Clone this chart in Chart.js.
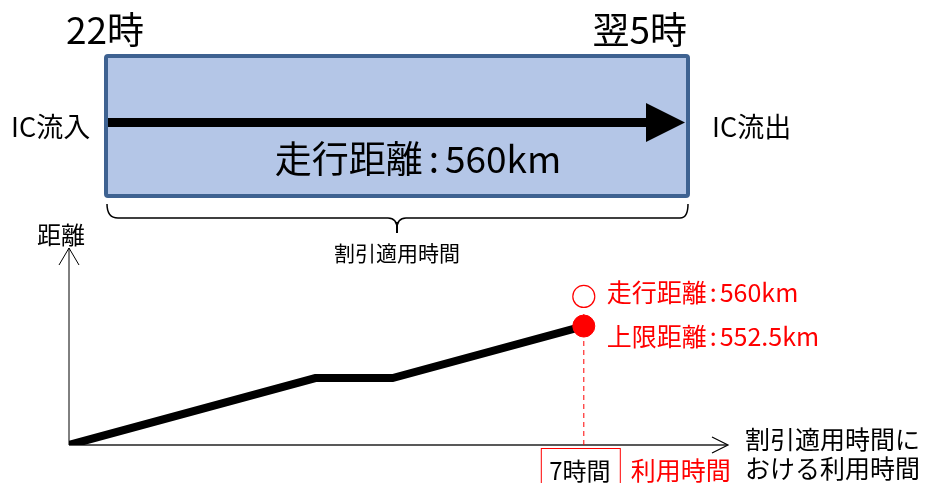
<!DOCTYPE html>
<html>
<head>
<meta charset="utf-8">
<script src="https://cdn.jsdelivr.net/npm/chart.js@4/dist/chart.umd.min.js"></script>
<style>
  html, body { margin: 0; padding: 0; background: #fff; }
  #wrap { width: 928px; height: 483px; }
</style>
</head>
<body>
<div id="wrap"><canvas id="chart" width="928" height="483"></canvas></div>
<script>
// path of the trip: usage time (h) vs distance (km), schematic
const usageHours = [0, 3.35, 4.4, 7];
const distanceKm = [0, 311, 311, 552.5];
const limitKm = 552.5;
const actualMarkKm = 690;      // open circle sits above the limit point in the sketch
const usedHours = 7;

const startLabel = '22時';
const endLabel = '翌5時';
const inLabel = 'IC流入';
const outLabel = 'IC流出';
const runLabel = '走行距離:560km';
const braceLabel = '割引適用時間';
const yLabel = '距離';
const xLabel = ['割引適用時間に', 'おける利用時間'];
const actualLabel = '走行距離:560km';
const limitLabel = '上限距離:552.5km';
const usedLabel = '7時間';
const usedTitle = '利用時間';

const JP = '"Noto Sans CJK JP", "Noto Sans", sans-serif';
const RED = '#ff0000';

// draws "xxx:yyy" with a little air round the colon, left-aligned at x
function colonText(ctx, text, x, y, gap, centered) {
  const [a, b] = text.split(':');
  const wa = ctx.measureText(a).width;
  const wc = ctx.measureText(':').width;
  const wb = ctx.measureText(b).width;
  const total = wa + gap + wc + gap + wb;
  let cx = centered ? x - total / 2 : x;
  ctx.textAlign = 'left';
  ctx.fillText(a, cx, y);
  cx += wa + gap;
  ctx.fillText(':', cx, y);
  cx += wc + gap;
  ctx.fillText(b, cx, y);
}

const diagram = {
  id: 'diagram',
  beforeDatasetsDraw(chart) {
    const { ctx, chartArea: a } = chart;
    ctx.save();
    // y axis
    ctx.strokeStyle = '#000';
    ctx.lineWidth = 1;
    ctx.beginPath();
    ctx.moveTo(a.left, a.bottom);
    ctx.lineTo(a.left, a.top);
    ctx.moveTo(a.left - 10, a.top + 17);
    ctx.lineTo(a.left, a.top);
    ctx.lineTo(a.left + 10, a.top + 17);
    ctx.stroke();
    // x axis
    ctx.strokeStyle = '#595959';
    ctx.lineWidth = 2;
    ctx.beginPath();
    ctx.moveTo(a.left, a.bottom);
    ctx.lineTo(a.right + 2, a.bottom);
    ctx.stroke();
    ctx.strokeStyle = '#000';
    ctx.lineWidth = 1.2;
    ctx.beginPath();
    ctx.moveTo(a.right - 13, a.bottom - 8);
    ctx.lineTo(a.right + 3, a.bottom);
    ctx.lineTo(a.right - 13, a.bottom + 8);
    ctx.stroke();
    ctx.restore();
  },
  afterDraw(chart) {
    const { ctx } = chart;
    const xs = chart.scales.x, ys = chart.scales.y;
    ctx.save();

    // top box
    ctx.fillStyle = '#b4c6e7';
    ctx.strokeStyle = '#3e6291';
    ctx.lineWidth = 4;
    ctx.beginPath();
    ctx.roundRect(106, 56, 582, 140, 2);
    ctx.fill();
    ctx.stroke();

    // big arrow
    ctx.fillStyle = '#000';
    ctx.fillRect(108, 118, 542, 9);
    ctx.beginPath();
    ctx.moveTo(646, 103);
    ctx.lineTo(685, 122.5);
    ctx.lineTo(646, 142);
    ctx.closePath();
    ctx.fill();

    ctx.fillStyle = '#000';
    ctx.textBaseline = 'middle';
    ctx.font = '37px ' + JP;
    ctx.textAlign = 'left';
    ctx.fillText(startLabel, 66, 30);
    ctx.textAlign = 'right';
    ctx.fillText(endLabel, 687, 30);

    ctx.font = '27px ' + JP;
    ctx.textAlign = 'left';
    ctx.fillText(inLabel, 11, 127);
    ctx.fillText(outLabel, 712, 127);

    ctx.font = '37px ' + JP;
    colonText(ctx, runLabel, 418, 159, 6, true);

    // brace under the box
    ctx.strokeStyle = '#000';
    ctx.lineWidth = 1.5;
    ctx.beginPath();
    ctx.moveTo(107, 204);
    ctx.quadraticCurveTo(107, 218, 118, 218);
    ctx.lineTo(388, 218);
    ctx.quadraticCurveTo(397, 218, 397, 229);
    ctx.quadraticCurveTo(397, 218, 406, 218);
    ctx.lineTo(680, 218);
    ctx.quadraticCurveTo(688, 218, 688, 204);
    ctx.stroke();
    ctx.lineWidth = 2;
    ctx.beginPath();
    ctx.moveTo(397, 222);
    ctx.lineTo(397, 233);
    ctx.stroke();

    ctx.font = '21px ' + JP;
    ctx.textAlign = 'center';
    ctx.fillText(braceLabel, 397, 253);

    ctx.font = '24px ' + JP;
    ctx.textAlign = 'left';
    ctx.fillText(yLabel, 37, 235);

    // x axis title
    ctx.font = '25px ' + JP;
    ctx.fillText(xLabel[0], 745, 439);
    ctx.fillText(xLabel[1], 745, 468);

    // red labels beside the points
    const px = xs.getPixelForValue(usedHours);
    ctx.fillStyle = RED;
    ctx.font = '25px ' + JP;
    colonText(ctx, actualLabel, px + 23, ys.getPixelForValue(actualMarkKm) - 4, 3, false);
    colonText(ctx, limitLabel, px + 23, ys.getPixelForValue(limitKm) + 10, 3, false);

    // used hours box
    ctx.strokeStyle = RED;
    ctx.lineWidth = 1;
    ctx.strokeRect(px - 42.5, 448.5, 79, 40);
    ctx.fillStyle = '#000';
    ctx.font = '24px ' + JP;
    ctx.textAlign = 'center';
    ctx.fillText(usedLabel, px - 4, 471);
    ctx.fillStyle = RED;
    ctx.font = '25px ' + JP;
    ctx.textAlign = 'left';
    ctx.fillText(usedTitle, px + 47, 470);

    ctx.restore();
  }
};

new Chart(document.getElementById('chart'), {
  type: 'scatter',
  data: {
    datasets: [
      {
        label: 'limit',
        data: [{ x: usedHours, y: limitKm }],
        pointRadius: 11,
        pointBackgroundColor: RED,
        pointBorderColor: RED,
        pointBorderWidth: 1,
      },
      {
        label: 'actual',
        data: [{ x: usedHours, y: actualMarkKm }],
        pointRadius: 11,
        pointBackgroundColor: '#fff',
        pointBorderColor: RED,
        pointBorderWidth: 1.2,
      },
      {
        label: 'distance',
        data: usageHours.map((h, i) => ({ x: h, y: distanceKm[i] })),
        showLine: true,
        borderColor: '#000',
        borderWidth: 8,
        pointRadius: 0,
        tension: 0,
      },
      {
        label: 'guide',
        data: [{ x: usedHours, y: 0 }, { x: usedHours, y: actualMarkKm - 65 }],
        showLine: true,
        borderColor: RED,
        borderWidth: 1,
        borderDash: [5, 4],
        pointRadius: 0,
      },
    ],
  },
  options: {
    responsive: false,
    animation: false,
    layout: { padding: { left: 69, right: 203, top: 248, bottom: 38 } },
    plugins: { legend: { display: false }, tooltip: { enabled: false } },
    scales: {
      x: { type: 'linear', min: 0, max: 8.92, display: false },
      y: { type: 'linear', min: 0, max: 915, display: false },
    },
  },
  plugins: [diagram],
});
</script>
</body>
</html>
